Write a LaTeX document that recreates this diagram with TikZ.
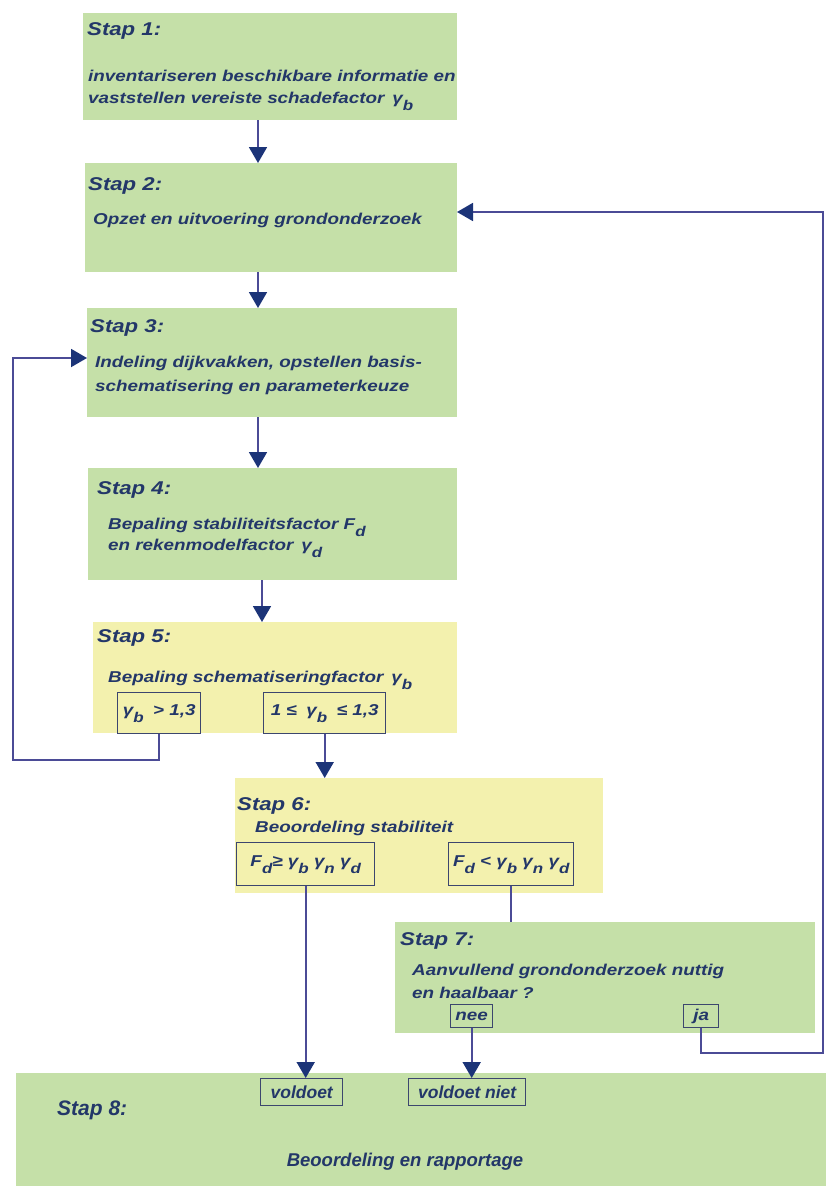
\documentclass[tikz,border=0pt]{standalone}
\usepackage{fontspec}
\usepackage{graphicx}
\setmainfont{Liberation Sans}
\newfontfamily\stf{Liberation Sans}[FakeStretch=1.2]
\usetikzlibrary{arrows.meta}
\definecolor{gboxc}{RGB}{197,224,168}
\definecolor{yboxc}{RGB}{243,241,174}
\definecolor{ink}{RGB}{35,55,105}
\definecolor{wire}{RGB}{75,75,150}
\definecolor{tipc}{RGB}{28,52,120}
\definecolor{framec}{RGB}{60,70,110}
\newcommand\hfnt{\stf\bfseries\itshape\fontsize{18.5}{22}\selectfont}
\newcommand\bfnt{\stf\bfseries\itshape\fontsize{15.7}{22}\selectfont}
\newcommand\nfnt{\bfseries\itshape\fontsize{18.5}{22}\selectfont}
\newcommand\hhfnt{\bfseries\itshape\fontsize{21}{24}\selectfont}
\newcommand\lfnt{\bfseries\itshape\fontsize{17.5}{20}\selectfont}
\newcommand\lsub[1]{\raisebox{-0.45em}{\scalebox{0.9}{#1}}}
\tikzset{
  panel/.style={anchor=north west, inner sep=0pt, outer sep=0pt},
  gpanel/.style={panel, fill=gboxc},
  ypanel/.style={panel, fill=yboxc},
  hd/.style={anchor=base west, inner sep=0pt, text=ink, font=\hfnt},
  bd/.style={anchor=base west, inner sep=0pt, text=ink, font=\bfnt},
  lab/.style={anchor=north west, draw=framec, line width=1.4pt, inner sep=0pt, text=ink, font=\bfnt},
  lab8/.style={lab, font=\lfnt},
  wln/.style={draw=wire, line width=1.9pt},
  arr/.style={wln, -{Triangle[width=18pt,length=16pt,color=tipc]}}
}
\begin{document}
\begin{tikzpicture}[x=1pt,y=-1pt]
\useasboundingbox (0,0) rectangle (826,1186);
\fill[white] (0,0) rectangle (826,1186);
% panels
\node[gpanel, minimum width=374pt, minimum height=107pt] (s1) at (83,13) {};
\node[gpanel, minimum width=372pt, minimum height=109pt] (s2) at (85,163) {};
\node[gpanel, minimum width=370pt, minimum height=109pt] (s3) at (87,308) {};
\node[gpanel, minimum width=369pt, minimum height=112pt] (s4) at (88,468) {};
\node[ypanel, minimum width=364pt, minimum height=111pt] (s5) at (93,622) {};
\node[ypanel, minimum width=368pt, minimum height=115pt] (s6) at (235,778) {};
\node[gpanel, minimum width=420pt, minimum height=111pt] (s7) at (395,922) {};
\node[gpanel, minimum width=810pt, minimum height=113pt] (s8) at (16,1073) {};
% texts
\node[hd] (h1) at (87,35) {Stap 1:};
\node[bd] (t1a) at (88,81) {inventariseren beschikbare informatie en};
\node[bd] (t1b) at (88,103) {vaststellen vereiste schadefactor \,γ\lsub{b}};
\node[hd] (h2) at (88,190) {Stap 2:};
\node[bd] (t2) at (93,224) {Opzet en uitvoering grondonderzoek};
\node[hd] (h3) at (90,332) {Stap 3:};
\node[bd] (t3a) at (95,367) {Indeling dijkvakken, opstellen basis-};
\node[bd] (t3b) at (95,391) {schematisering en parameterkeuze};
\node[hd] (h4) at (97,494) {Stap 4:};
\node[bd] (t4a) at (108,529) {Bepaling stabiliteitsfactor F\lsub{d}};
\node[bd] (t4b) at (108,550) {en rekenmodelfactor \,γ\lsub{d}};
\node[hd] (h5) at (97,642) {Stap 5:};
\node[bd] (t5) at (108,682) {Bepaling schematiseringfactor \,γ\lsub{b}};
\node[lab, minimum width=83pt, minimum height=41pt] (b51) at (117,692) {γ\lsub{b}\; > 1,3};
\node[lab, minimum width=122pt, minimum height=41pt] (b52) at (263,692) {1 ≤ \;γ\lsub{b}\; ≤ 1,3};
\node[hd] (h6) at (237,810) {Stap 6:};
\node[bd] (t6) at (255,832) {Beoordeling stabiliteit};
\node[lab, minimum width=138pt, minimum height=43pt] (b61) at (236,842) {F\lsub{d}≥ γ\lsub{b} γ\lsub{n} γ\lsub{d}};
\node[lab, minimum width=125pt, minimum height=43pt] (b62) at (448,842) {F\lsub{d} < γ\lsub{b} γ\lsub{n} γ\lsub{d}};
\node[hd] (h7) at (400,945) {Stap 7:};
\node[bd] (t7a) at (412,975) {Aanvullend grondonderzoek nuttig};
\node[bd] (t7b) at (412,998) {en haalbaar ?};
\node[lab, minimum width=42pt, minimum height=23pt] (nee) at (450,1004) {nee};
\node[lab, minimum width=35pt, minimum height=23pt] (ja) at (683,1004) {ja};
\node[anchor=base west, inner sep=0pt, text=ink, font=\hhfnt] (h8) at (57,1115) {Stap 8:};
\node[anchor=base, inner sep=0pt, text=ink, font=\nfnt] (t8) at (405,1166) {Beoordeling en rapportage};
\node[lab8, minimum width=82pt, minimum height=27pt] (vd) at (260,1078) {voldoet};
\node[lab8, minimum width=117pt, minimum height=27pt] (vdn) at (408,1078) {voldoet niet};
% connectors
\coordinate (xa) at (258,0);
\coordinate (xb) at (262,0);
\draw[arr] (xa |- s1.south) -- (xa |- s2.north);
\draw[arr] (xa |- s2.south) -- (xa |- s3.north);
\draw[arr] (xa |- s3.south) -- (xa |- s4.north);
\draw[arr] (xb |- s4.south) -- (xb |- s5.north);
\coordinate (lp) at (13,760);
\coordinate (lt) at (0,358);
\draw[arr] (b51.south) |- (lp) |- (s3.west |- lt);
\draw[arr] (b52.south) -- (b52.south |- s6.north);
\draw[arr] (b61.south) -- (b61.south |- vd.north);
\draw[wln] (b62.south) -- (b62.south |- s7.north);
\draw[arr] (nee.south) -- (nee.south |- vdn.north);
\coordinate (rp) at (823,1053);
\coordinate (rt) at (0,212);
\draw[arr] (ja.south) |- (rp) |- (s2.east |- rt);
\end{tikzpicture}
\end{document}
